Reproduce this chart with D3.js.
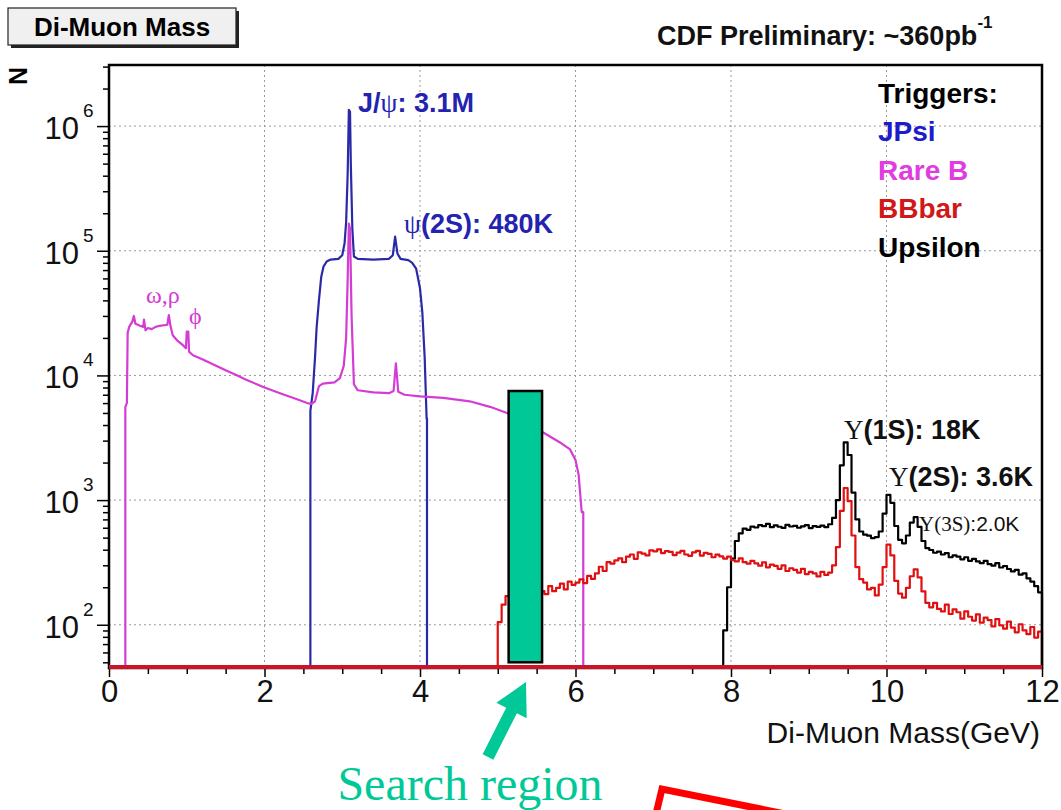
<!DOCTYPE html>
<html><head><meta charset="utf-8">
<script src="https://cdn.jsdelivr.net/npm/d3@7"></script>
<style>
body{margin:0;background:#fff}
svg{display:block}
text{font-family:"Liberation Sans",Arial,Helvetica,sans-serif}
.serif{font-family:"Liberation Serif","Times New Roman",serif}
</style>
</head><body>
<svg id="c" width="1061" height="810"></svg>
<script>
// ---------------- data ----------------
const massTicks = [0, 2, 4, 6, 8, 10, 12];
const countTicks = [1e2, 1e3, 1e4, 1e5, 1e6];
const countExponents = ["2", "3", "4", "5", "6"];
const triggerNames = ["JPsi", "Rare B", "BBbar", "Upsilon"];
const triggerColors = ["#1c1cc8", "#e03ce0", "#d01818", "#000000"];
const curveColors = ["#2a2aa8", "#d43cd4", "#e01010", "#000000"];

// JPsi trigger (mass GeV, N)
const jpsiData = [
  [2.59, 45], [2.59, 5200], [2.62, 7200], [2.65, 14000], [2.67, 24000], [2.70, 40000],
  [2.73, 62000], [2.76, 75000], [2.80, 82000], [2.85, 85000], [2.95, 86000], [3.00, 92000],
  [3.03, 115000], [3.05, 170000], [3.07, 420000], [3.085, 1350000], [3.10, 1300000],
  [3.11, 500000], [3.13, 150000], [3.15, 90000], [3.20, 86000], [3.40, 85000], [3.60, 86000],
  [3.65, 92000], [3.68, 130000], [3.71, 95000], [3.75, 86000], [3.85, 84000], [3.90, 80000],
  [3.95, 72000], [4.00, 50000], [4.03, 32000], [4.06, 14000], [4.085, 4500], [4.09, 4500], [4.09, 45]
];

// Rare B trigger (mass GeV, N)
const rareBData = [
  [0.21, 45], [0.21, 5600], [0.23, 6000], [0.24, 22000], [0.26, 24500], [0.30, 27000],
  [0.32, 30000], [0.34, 26000], [0.40, 25000], [0.44, 24500], [0.45, 28000], [0.47, 23000],
  [0.50, 24000], [0.55, 23500], [0.60, 24500], [0.65, 25000], [0.75, 25500], [0.77, 30500],
  [0.79, 25000], [0.82, 21000], [0.88, 19000], [0.95, 17500], [0.99, 16500], [1.00, 22500],
  [1.02, 22500], [1.03, 15500], [1.08, 14500], [1.20, 13500], [1.35, 12200], [1.50, 11000],
  [1.65, 10000], [1.75, 9300], [1.90, 8500], [2.00, 8000], [2.20, 7200], [2.40, 6500],
  [2.55, 6000], [2.60, 5900], [2.65, 6200], [2.70, 8200], [2.75, 8600], [2.90, 8800],
  [2.97, 9500], [3.02, 12000], [3.05, 20000], [3.07, 60000], [3.085, 165000], [3.10, 150000],
  [3.12, 30000], [3.15, 8500], [3.20, 7600], [3.40, 7300], [3.60, 7200], [3.66, 7500],
  [3.69, 12500], [3.72, 7400], [3.80, 7000], [4.00, 6800], [4.30, 6600], [4.64, 6200],
  [4.90, 5600], [5.12, 5000], [5.30, 4300], [5.58, 3500], [5.80, 2900], [5.93, 2550],
  [6.00, 2100], [6.04, 1600], [6.08, 800], [6.10, 800], [6.10, 45]
];

// BBbar trigger: histogram bins of 0.05 GeV starting at 5.00 GeV
const bbbarStart = 5.00;
const bbbarBin = 0.05;
const bbbarCounts = [
  105, 145, 170, 160, 185, 178, 192, 181, 196, 188, 197, 186, 176, 204, 186, 198, 214, 192, 222, 209,
  218, 231, 216, 247, 233, 258, 292, 270, 318, 309, 328, 341, 318, 352, 366, 338, 381, 372, 360, 395,
  388, 402, 376, 390, 384, 362, 379, 391, 366, 357, 381, 392, 359, 377, 370, 348, 365, 354, 339, 352,
  330, 322, 341, 318, 309, 326, 311, 298, 316, 289, 304, 297, 281, 300, 270, 284, 276, 262, 281, 255,
  266, 258, 244, 266, 251, 262, 300, 420, 820, 1250, 980, 520, 290, 232, 218, 192, 198, 172, 210, 290,
  440, 360, 225, 178, 165, 198, 245, 278, 240, 185, 150, 138, 150, 134, 128, 145, 122, 133, 126, 112,
  128, 116, 108, 121, 104, 114, 109, 97, 111, 99, 93, 106, 95, 87, 101, 90, 84, 96, 79, 88
];

// Upsilon trigger: histogram bins of 0.05 GeV starting at 7.90 GeV
const upsilonStart = 7.90;
const upsilonBin = 0.05;
const upsilonCounts = [
  90, 200, 340, 470, 540, 590, 578, 612, 603, 629, 618, 645, 607, 626, 611, 598, 633, 614, 622, 600,
  616, 631, 596, 618, 609, 624, 606, 640, 720, 1000, 1900, 2900, 2300, 1150, 700, 560, 528, 518, 496, 505,
  560, 780, 1100, 950, 620, 480, 450, 520, 660, 730, 610, 470, 412, 398, 378, 386, 366, 375, 348, 360,
  352, 335, 348, 326, 338, 322, 312, 325, 306, 298, 312, 288, 296, 280, 268, 276, 252, 258, 236, 222,
  204, 182
];

// search region (GeV) and its height (N)
const searchRegion = [5.14, 5.57];
const searchTop = 7500;

// ---------------- drawing ----------------
const svg = d3.select("#c");
const L = 109, R = 1042, T = 65, B = 668;
const x = d3.scaleLinear().domain([0, 12]).range([L, R]);
const y = d3.scaleLog().domain([45, 3.09e6]).range([B, T]);

svg.append("rect").attr("width", 1061).attr("height", 810).attr("fill", "#fff");

// grid
const grid = svg.append("g");
grid.selectAll("line.v").data(massTicks.filter(t => t > 0 && t < 12)).join("line")
  .attr("x1", d => x(d)).attr("x2", d => x(d)).attr("y1", T).attr("y2", B)
  .attr("stroke", "#9a9a9a").attr("stroke-width", 1).attr("stroke-dasharray", "2,3");
grid.selectAll("line.h").data(countTicks).join("line")
  .attr("x1", L).attr("x2", R).attr("y1", d => y(d)).attr("y2", d => y(d))
  .attr("stroke", "#9a9a9a").attr("stroke-width", 1).attr("stroke-dasharray", "2,3");

// histogram helpers
function stepPoints(start, bin, counts) {
  const pts = [[start, 45]];
  counts.forEach((c, i) => pts.push([start + i * bin, c]));
  const end = Math.min(12, start + counts.length * bin);
  pts.push([end, counts[counts.length - 1]]);
  pts.push([end, 45]);
  return pts;
}
const lin = d3.line().x(d => x(d[0])).y(d => y(d[1]));
const step = d3.line().x(d => x(d[0])).y(d => y(d[1])).curve(d3.curveStepAfter);

const curves = svg.append("g").attr("fill", "none").attr("stroke-width", 2.2).attr("stroke-linejoin", "round");
curves.append("path").attr("d", lin(jpsiData)).attr("stroke", curveColors[0]);
curves.append("path").attr("d", lin(rareBData)).attr("stroke", curveColors[1]);
curves.append("path").attr("d", step(stepPoints(upsilonStart, upsilonBin, upsilonCounts))).attr("stroke", curveColors[3]);
curves.append("path").attr("d", step(stepPoints(bbbarStart, bbbarBin, bbbarCounts))).attr("stroke", curveColors[2]);

// axes ticks
const xMajor = d3.axisBottom(x).tickValues(massTicks).tickSize(9).tickFormat(d3.format("d")).tickPadding(4);
const xAxisG = svg.append("g").attr("transform", `translate(0,${B})`).call(xMajor);
xAxisG.select(".domain").remove();
xAxisG.selectAll("line").attr("stroke", "#000").attr("stroke-width", 1.5);
xAxisG.selectAll("text").attr("font-size", 31).attr("fill", "#111")
  .attr("font-family", '"Liberation Sans",Arial,sans-serif').attr("dy", "0.72em").attr("y", 12);
const xMinor = d3.axisBottom(x).tickValues(d3.range(0, 12.01, 0.5).filter(v => v % 2 !== 0)).tickSize(6).tickFormat("");
const xMinorG = svg.append("g").attr("transform", `translate(0,${B})`).call(xMinor);
xMinorG.select(".domain").remove();
xMinorG.selectAll("line").attr("stroke", "#000").attr("stroke-width", 1.5);

const yMajor = d3.axisLeft(y).tickValues(countTicks).tickSize(12).tickFormat("");
const yAxisG = svg.append("g").attr("transform", `translate(${L},0)`).call(yMajor);
yAxisG.select(".domain").remove();
yAxisG.selectAll("line").attr("stroke", "#000").attr("stroke-width", 1.5);
const minorVals = [];
for (let e = 1; e <= 6; e++) for (let m = 2; m <= 9; m++) {
  const v = m * Math.pow(10, e);
  if (v >= 45 && v <= 3.09e6) minorVals.push(v);
}
const yMinor = d3.axisLeft(y).tickValues(minorVals).tickSize(6).tickFormat("");
const yMinorG = svg.append("g").attr("transform", `translate(${L},0)`).call(yMinor);
yMinorG.select(".domain").remove();
yMinorG.selectAll("line").attr("stroke", "#000").attr("stroke-width", 1.5);

// y tick labels 10^n
const yl = svg.append("g").attr("fill", "#111");
yl.selectAll("text.base").data(countTicks).join("text")
  .attr("x", 79).attr("y", d => y(d) + 13).attr("text-anchor", "end")
  .attr("font-size", 31).text("10");
yl.selectAll("text.exp").data(countTicks).join("text")
  .attr("x", 83).attr("y", d => y(d) - 9).attr("font-size", 19)
  .text((d, i) => countExponents[i]);

// frame
svg.append("rect").attr("x", L).attr("y", T).attr("width", R - L).attr("height", B - T)
  .attr("fill", "none").attr("stroke", "#000").attr("stroke-width", 2.5);
// zero-bin baseline
svg.append("line").attr("x1", x(0)).attr("x2", x(12)).attr("y1", B - 1).attr("y2", B - 1)
  .attr("stroke", "#cc1428").attr("stroke-width", 4);

// search region box
svg.append("rect").attr("x", x(searchRegion[0])).attr("y", y(searchTop))
  .attr("width", x(searchRegion[1]) - x(searchRegion[0]))
  .attr("height", y(50) - y(searchTop))
  .attr("fill", "#00c896").attr("stroke", "#000").attr("stroke-width", 2.5);

// axis title
svg.append("text").attr("x", 1040).attr("y", 743).attr("text-anchor", "end")
  .attr("font-size", 30).attr("fill", "#111").text("Di-Muon Mass(GeV)");
// y axis title N
svg.append("text").attr("transform", "translate(27,76) rotate(-90)").attr("text-anchor", "middle")
  .attr("font-size", 25).attr("font-weight", "bold").text("N");

// title box
svg.append("rect").attr("x", 11).attr("y", 11).attr("width", 228).attr("height", 37).attr("fill", "#222");
svg.append("rect").attr("x", 8).attr("y", 8).attr("width", 228).attr("height", 37)
  .attr("fill", "#f0f0f0").attr("stroke", "#222").attr("stroke-width", 1.2);
svg.append("text").attr("x", 122).attr("y", 36).attr("text-anchor", "middle")
  .attr("font-size", 26).attr("font-weight", "bold").text("Di-Muon Mass");

// CDF Preliminary
const cdf = svg.append("text").attr("x", 657).attr("y", 45).attr("font-size", 27).attr("font-weight", "bold").attr("fill", "#111");
cdf.append("tspan").text("CDF Preliminary: ~360pb");
cdf.append("tspan").attr("font-size", 17).attr("dy", -17).text("-1");

// legend
const leg = svg.append("g").attr("font-weight", "bold").attr("font-size", 28);
leg.append("text").attr("x", 878).attr("y", 103).attr("fill", "#000").text("Triggers:");
leg.selectAll("text.t").data(triggerNames).join("text")
  .attr("x", 878).attr("y", (d, i) => 141 + i * 38.5).attr("fill", (d, i) => triggerColors[i]).text(d => d);

// peak annotations
function ann(xp, yp, parts, color, size, weight) {
  const t = svg.append("text").attr("x", xp).attr("y", yp).attr("fill", color).attr("font-size", size);
  parts.forEach(p => {
    const s = t.append("tspan").text(p[0]);
    if (p[1] === "serif") s.attr("class", "serif").attr("font-weight", "normal");
    else s.attr("font-weight", weight);
  });
  return t;
}
ann(358, 112, [["J/", "sans"], ["ψ", "serif"], [": 3.1M", "sans"]], "#2323b0", 27, "bold");
ann(404, 233, [["ψ", "serif"], ["(2S): 480K", "sans"]], "#2323b0", 27, "bold");
ann(146, 303, [["ω,ρ", "serif"]], "#d43cd4", 24, "normal");
ann(189, 324, [["ϕ", "serif"]], "#d43cd4", 24, "normal");
ann(844, 439, [["Υ", "serif"], ["(1S): 18K", "sans"]], "#111", 27, "bold");
ann(889, 486, [["Υ", "serif"], ["(2S): 3.6K", "sans"]], "#111", 27, "bold");
ann(919, 531, [["Υ(3S)", "serif"], [":2.0K", "sans"]], "#111", 21, "normal");

// arrow to search region
(function () {
  const bx = 488, by = 757, tx = 526, ty = 682;
  const len = Math.hypot(tx - bx, ty - by);
  const ux = (tx - bx) / len, uy = (ty - by) / len, nx = -uy, ny = ux;
  const hl = 32, hw = 17, sw = 6;
  const hx = tx - ux * hl, hy = ty - uy * hl;
  const pts = [
    [bx + nx * sw, by + ny * sw], [hx + nx * sw, hy + ny * sw], [hx + nx * hw, hy + ny * hw], [tx, ty],
    [hx - nx * hw, hy - ny * hw], [hx - nx * sw, hy - ny * sw], [bx - nx * sw, by - ny * sw]
  ];
  svg.append("polygon").attr("points", pts.map(p => p.join(",")).join(" ")).attr("fill", "#00c896");
})();
svg.append("text").attr("class", "serif").attr("x", 470).attr("y", 800).attr("text-anchor", "middle")
  .attr("font-size", 48).attr("fill", "#00c896").text("Search region");

// red fragment at the bottom
svg.append("polyline").attr("points", "655,818 662,789 805,818")
  .attr("fill", "none").attr("stroke", "#ff0000").attr("stroke-width", 7).attr("stroke-linejoin", "miter");
</script>
</body></html>
